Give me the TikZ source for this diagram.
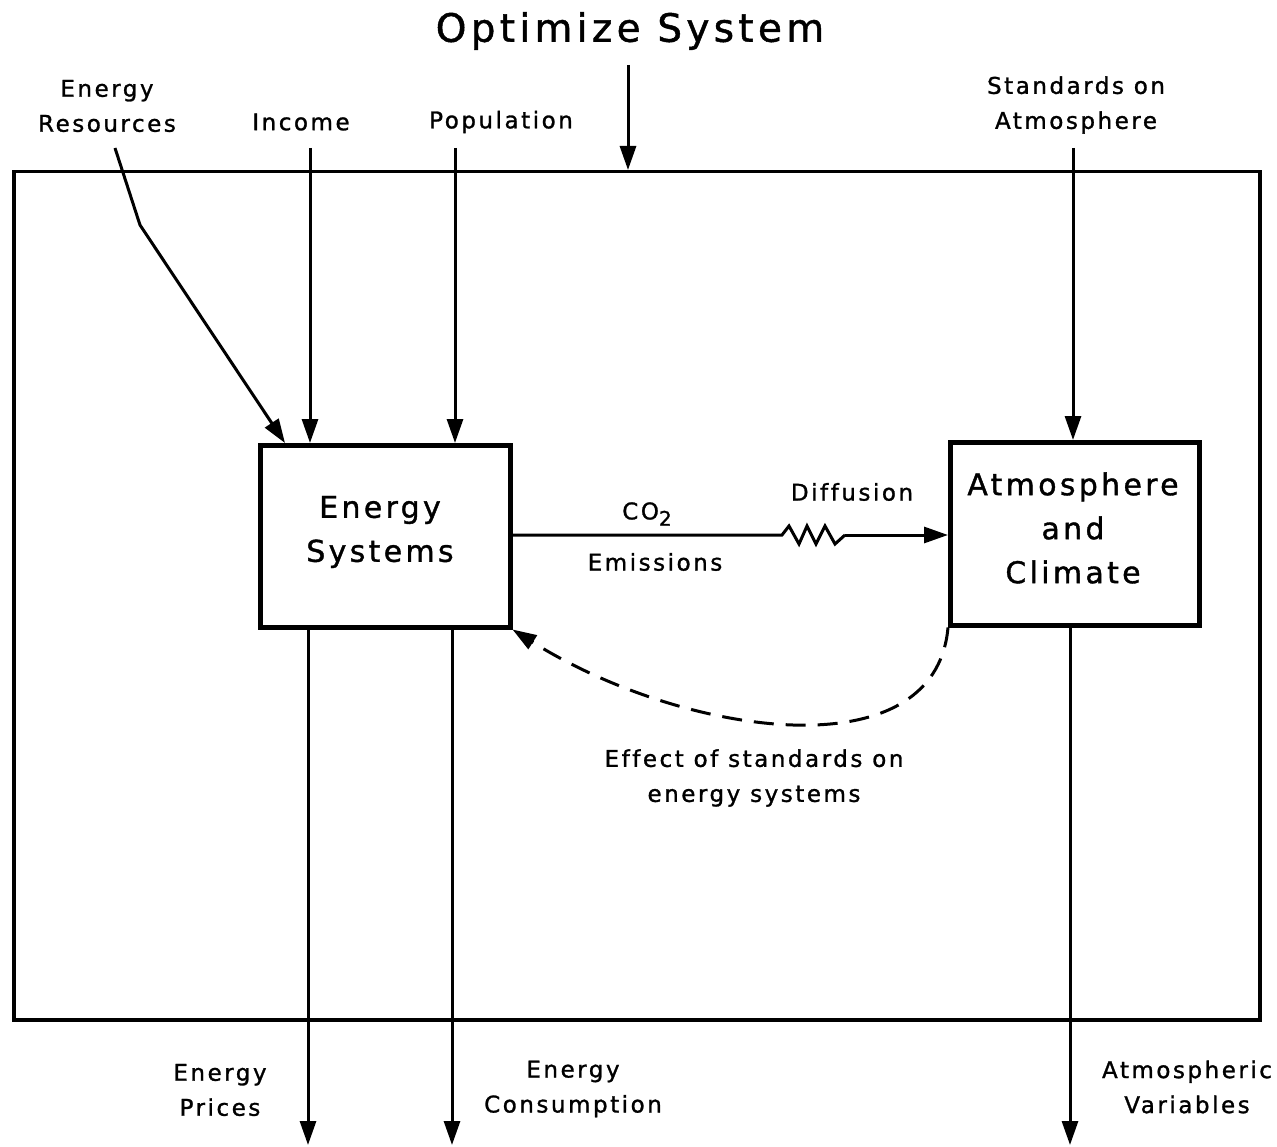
\documentclass[tikz,border=0pt]{standalone}
\usepackage{fontspec}
\setmainfont{DejaVu Sans}[LetterSpace=11, Ligatures={NoCommon}, FakeBold=1.2]
\usetikzlibrary{arrows.meta}
\begin{document}
\begin{tikzpicture}[x=1pt,y=-1pt,
  lbl/.style={font=\fontsize{23}{35}\selectfont, align=center, inner sep=0pt},
  boxtxt/.style={font=\fontsize{30}{44}\selectfont, align=center},
  sysbox/.style={draw, line width=4.5pt, inner sep=0pt},
  tip/.style={-{Triangle[length=24pt,width=16pt]}},
  arr/.style={line width=3pt, tip},
  ln/.style={line width=3pt}]
\useasboundingbox (0,0) rectangle (1277,1147);
% outer frame
\node[draw, line width=3.5pt, inner sep=0pt, minimum width=1246pt, minimum height=848pt, anchor=north west] (frame) at (12,170) {};
% title
\node[font=\fontsize{39}{50}\selectfont, inner sep=0pt] (title) at (630,31) {Optimize System};
\coordinate (titlefoot) at (628,65);
\draw[arr] (titlefoot) -- (frame.north -| titlefoot);
% boxes
\node[sysbox, minimum width=250pt, minimum height=182pt, anchor=north west] (es) at (258,443) {};
\node[boxtxt] (estxt) at (380,532) {Energy\\Systems};
\node[sysbox, minimum width=249pt, minimum height=183pt, anchor=north west] (ac) at (948,440) {};
\node[boxtxt] (actxt) at (1073,528) {Atmosphere\\and\\Climate};
% inputs
\node[lbl] (er) at (107,106) {Energy\\Resources};
\node[lbl] (inc) at (301,122) {Income};
\node[lbl] (pop) at (501,122) {Population};
\node[lbl] (soa) at (1076,105) {Standards on\\Atmosphere};
\coordinate (erA) at (115,148);
\coordinate (erB) at (140,225);
\coordinate (erC) at (285,443);
\coordinate (incA) at (310,148);
\coordinate (popA) at (455,148);
\coordinate (soaA) at (1073,148);
\draw[arr] (erA) -- (erB) -- (erC);
\draw[arr] (incA) -- (incA |- es.north);
\draw[arr] (popA) -- (popA |- es.north);
\draw[arr] (soaA) -- (soaA |- ac.north);
% CO2 link with diffusion resistor
\coordinate (zz1) at (782,535);
\coordinate (zz2) at (845,535);
\draw[ln, line join=miter] (es.east |- zz1) -- (zz1) -- (789,526) -- (799,544) -- (807,526) -- (816,544) -- (825,526) -- (835,544) -- (zz2);
\draw[arr] (zz2) -- (ac.west |- zz2);
\node[lbl] (co2) at (647,514) {CO\raisebox{-0.5ex}{\fontsize{20}{22}\selectfont 2}};
\node[lbl] (emis) at (655,562) {Emissions};
\node[lbl] (diff) at (852,492) {Diffusion};
% dashed feedback
\draw[line width=3pt, dash pattern=on 20pt off 12pt, tip]
  (ac.south west) .. controls (935,775) and (680,735) .. (es.south east);
\node[lbl] (eff) at (754,778) {Effect of standards on\\energy systems};
% outputs
\coordinate (o1) at (308,1145);
\coordinate (o2) at (452,1145);
\coordinate (o3) at (1070,1145);
\draw[arr] (o1 |- es.south) -- (o1);
\draw[arr] (o2 |- es.south) -- (o2);
\draw[arr] (o3 |- ac.south) -- (o3);
\node[lbl] (ep) at (220,1090) {Energy\\Prices};
\node[lbl] (ec) at (573,1089) {Energy\\Consumption};
\node[lbl] (av) at (1187,1087) {Atmospheric\\Variables};
\end{tikzpicture}
\end{document}
